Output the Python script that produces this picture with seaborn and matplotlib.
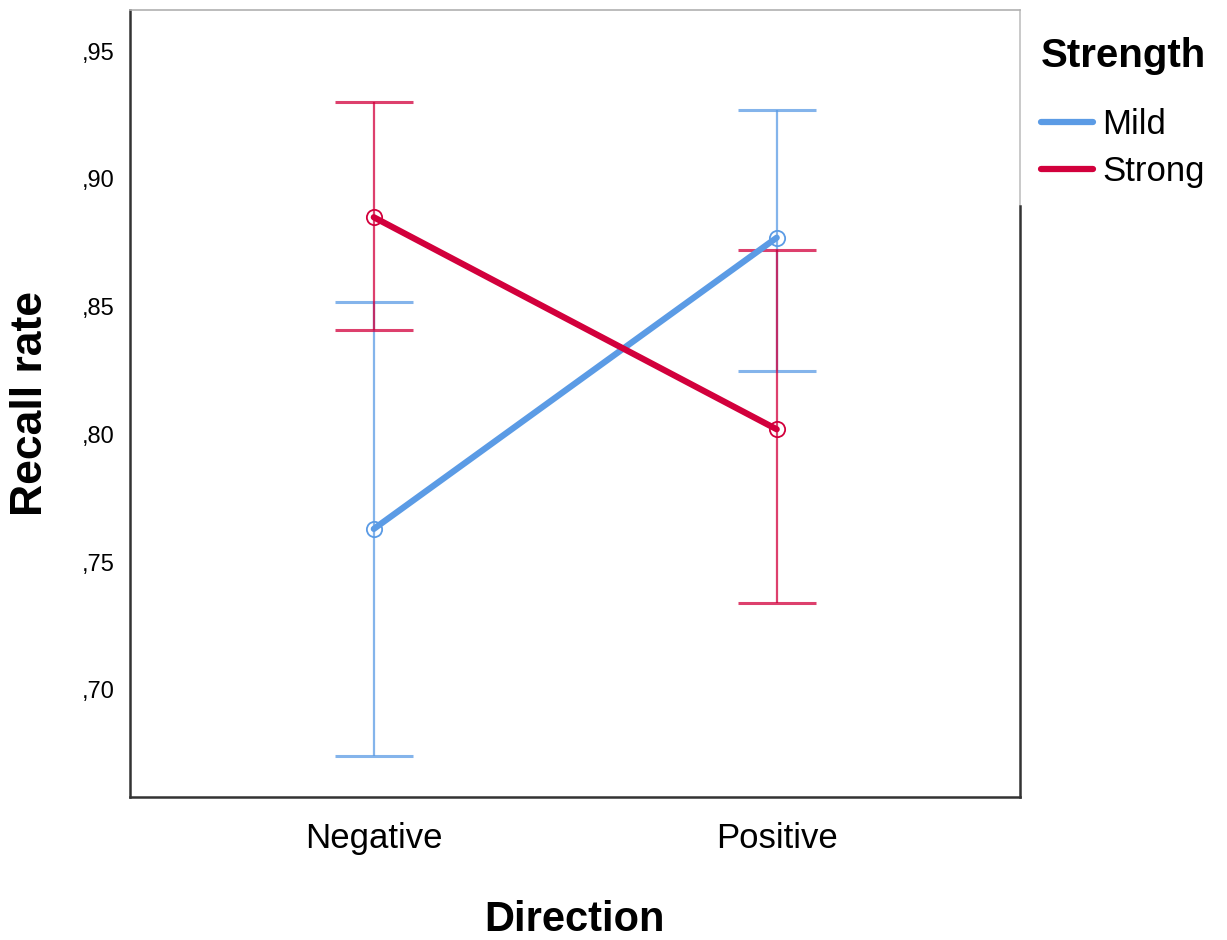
import numpy as np
import pandas as pd
import matplotlib
matplotlib.use("Agg")
import matplotlib.pyplot as plt
import seaborn as sns
from matplotlib.ticker import FuncFormatter, FixedLocator
from matplotlib.lines import Line2D

# ---- data ----
directions = ["Negative", "Positive"]
strengths = ["Mild", "Strong"]
mild_mean = [0.763, 0.877]
mild_low = [0.674, 0.825]
mild_high = [0.852, 0.927]
strong_mean = [0.885, 0.802]
strong_low = [0.841, 0.734]
strong_high = [0.930, 0.872]
yticks = [0.70, 0.75, 0.80, 0.85, 0.90, 0.95]

colors = {"Mild": "#5B9BE5", "Strong": "#D2003C"}

df = pd.DataFrame({
    "Direction": directions * 2,
    "Strength": ["Mild"] * 2 + ["Strong"] * 2,
    "Recall": mild_mean + strong_mean,
    "Low": mild_low + strong_low,
    "High": mild_high + strong_high,
})

sns.set_theme(style="white")
plt.rcParams["font.family"] = ["Liberation Sans", "DejaVu Sans"]
plt.rcParams["text.color"] = "black"
plt.rcParams["axes.labelcolor"] = "black"

fig = plt.figure(figsize=(12.27, 9.4), dpi=100)
ax = fig.add_axes([0.106, 0.152, 0.725, 0.837])

sns.pointplot(data=df, x="Direction", y="Recall", hue="Strength",
              order=directions, hue_order=strengths, palette=colors,
              errorbar=None, markers="o", linestyles="-", ax=ax,
              linewidth=4.5, markersize=11, markeredgewidth=1.3,
              legend=False)
for ln in ax.lines:
    ln.set_markerfacecolor("none")
    ln.set_zorder(5)

xpos = {d: i for i, d in enumerate(directions)}
for s in strengths:
    sub = df[df["Strength"] == s]
    x = [xpos[d] for d in sub["Direction"]]
    y = sub["Recall"].to_numpy()
    err = [y - sub["Low"].to_numpy(), sub["High"].to_numpy() - y]
    ax.errorbar(x, y, yerr=err, fmt="none", ecolor=colors[s], elinewidth=1.6,
                capsize=28, capthick=2.2, alpha=0.75, zorder=3)

ax.set_xlim(-0.605, 1.603)
ax.set_ylim(0.658, 0.966)
ax.yaxis.set_major_locator(FixedLocator(yticks))
ax.yaxis.set_major_formatter(FuncFormatter(lambda v, p: ("%.2f" % v).lstrip("0").replace(".", ",")))
ax.tick_params(axis="both", length=0)
ax.tick_params(axis="y", labelsize=17, pad=11, colors="black")
ax.tick_params(axis="x", labelsize=25, pad=18, colors="black")

ax.set_xlabel("Direction", fontsize=30, fontweight="bold", labelpad=32)
ax.set_ylabel("Recall rate", fontsize=32, fontweight="bold", labelpad=22)

for side in ["left", "bottom", "right"]:
    ax.spines[side].set_color("#333333")
    ax.spines[side].set_linewidth(1.8)
ax.spines["top"].set_color("#b0b0b0")
ax.spines["top"].set_linewidth(1.2)
ax.spines["right"].set_bounds(0.658, 0.8895)
ax.plot([1, 1], [0.752, 1.0], transform=ax.transAxes, color="#c0c0c0",
        lw=1.2, clip_on=False, zorder=1)

handles = [Line2D([0], [0], color=colors[s], lw=4.5) for s in strengths]
leg = ax.legend(handles, strengths, title="Strength", loc="upper left",
                bbox_to_anchor=(1.006, 0.986), borderaxespad=0, frameon=False,
                fontsize=25, title_fontproperties={"weight": "bold", "size": 29},
                handlelength=1.5, handletextpad=0.27, labelspacing=0.4,
                borderpad=0.45)
leg._legend_box.align = "left"
leg._legend_box.sep = 24

fig.savefig("out.png", dpi=100, facecolor="white")
